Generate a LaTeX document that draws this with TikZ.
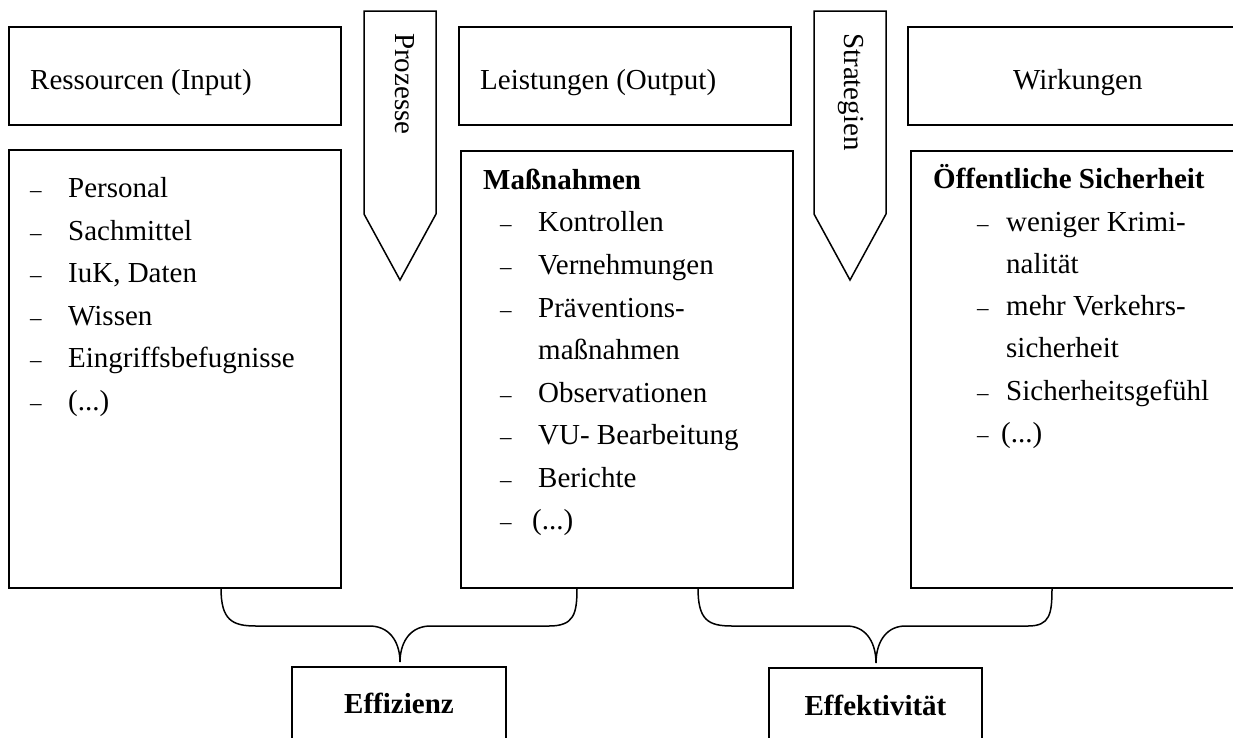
\documentclass[tikz,border=0pt]{standalone}
\usepackage{fontspec}
\setmainfont{Liberation Serif}
\begin{document}
\begin{tikzpicture}[x=1pt,y=-1pt,
  box/.style={draw, line width=1.8pt, inner sep=0pt, outer sep=0pt, anchor=north west},
  txt/.style={anchor=base west, inner sep=0pt, font=\fontsize{29}{35}\selectfont},
  dsh/.style={anchor=base west, inner sep=0pt, font=\fontsize{23}{23}\selectfont},
  btxt/.style={anchor=base west, inner sep=0pt, font=\fontsize{29}{35}\selectfont\bfseries},
  ctxt/.style={anchor=base, inner sep=0pt, font=\fontsize{29}{35}\selectfont\bfseries},
  rtxt/.style={anchor=base west, inner sep=0pt, rotate=-90, font=\fontsize{29}{35}\selectfont},
  arr/.style={draw, line width=1.5pt, line join=miter},
  brace/.style={draw, line width=1.5pt}]
\useasboundingbox (0,0) rectangle (1233,737);
\clip (0,0) rectangle (1233,737);

% header boxes
\node[box, minimum width=332pt, minimum height=98pt] (h1) at (9,27) {};
\node[box, minimum width=332pt, minimum height=98pt] (h2) at (459,27) {};
\node[box, minimum width=338pt, minimum height=98pt] (h3) at (908,27) {};
\node[txt] (t1) at (30,89) {Ressourcen (Input)};
\node[txt] (t2) at (480,89) {Leistungen (Output)};
\node[txt] (t3) at (1013,89) {Wirkungen};

% content boxes
\node[box, minimum width=332pt, minimum height=438pt] (c1) at (9,150) {};
\node[box, minimum width=332pt, minimum height=437pt] (c2) at (461,151) {};
\node[box, minimum width=335pt, minimum height=437pt] (c3) at (911,151) {};

% process arrows
\path[arr] (364,11) -- (436,11) -- (436,214) -- (400,280) -- (364,214) -- cycle;
\node[rtxt] (p1) at (395,33) {Prozesse};
\path[arr] (814,11) -- (886,11) -- (886,214) -- (850,280) -- (814,214) -- cycle;
\node[rtxt] (p2) at (844,33) {Strategien};

% list 1
\foreach \y/\t [count=\i] in {197/Personal, 240/Sachmittel, 282/{IuK, Daten}, 325/Wissen, 367/Eingriffsbefugnisse}{
  \node[dsh] (d1-\i) at (30,\y) {–};
  \node[txt] (l1-\i) at (68,\y) {\t};
}
\node[dsh] (d1-e) at (30,410) {–};
\node[txt] (l1-e) at (68,410) {(...)};

% list 2
\node[btxt] (m2) at (483,189) {Maßnahmen};
\foreach \y/\t [count=\i] in {231/Kontrollen, 274/Vernehmungen, 317/Präventions-, 402/Observationen, 444/VU- Bearbeitung, 487/Berichte}{
  \node[dsh] (d2-\i) at (500,\y) {–};
  \node[txt] (l2-\i) at (538,\y) {\t};
}
\node[txt] (l2-c) at (538,359) {maßnahmen};
\node[dsh] (d2-e) at (500,529) {–};
\node[txt] (l2-e) at (532,529) {(...)};

% list 3
\node[btxt] (m3) at (933,188) {Öffentliche Sicherheit};
\foreach \y/\t [count=\i] in {231/weniger Krimi-, 315/mehr Verkehrs-, 400/Sicherheitsgefühl}{
  \node[dsh] (d3-\i) at (977,\y) {–};
  \node[txt] (l3-\i) at (1006,\y) {\t};
}
\node[txt] (l3-a) at (1006,273) {nalität};
\node[txt] (l3-b) at (1006,357) {sicherheit};
\node[dsh] (d3-e) at (977,442) {–};
\node[txt] (l3-e) at (1001,442) {(...)};

% result boxes
\node[box, minimum width=214pt, minimum height=100pt] (eff) at (292,667) {};
\node[box, minimum width=213pt, minimum height=100pt] (efk) at (769,668) {};
\node[ctxt] (te) at (399,713) {Effizienz};
\node[ctxt] (tk) at (875.5,715) {Effektivität};

% braces
\coordinate (b1l) at (221,588);
\coordinate (b1r) at (577,588);
\coordinate (b1t) at (400,662);
\coordinate (b2l) at (698,588);
\coordinate (b2r) at (1052,588);
\coordinate (b2t) at (876,663);
\path[brace] (b1l) .. controls (221,620) and (232,626) .. (256,626) -- (371,626)
  .. controls (392,627) and (400,645) .. (b1t)
  .. controls (400,645) and (408,627) .. (429,626) -- (549,626)
  .. controls (574,626) and (577,614) .. (b1r);
\path[brace] (b2l) .. controls (698,620) and (708,626) .. (732,626) -- (848,626)
  .. controls (868,627) and (876,645) .. (b2t)
  .. controls (876,645) and (884,627) .. (904,626) -- (1028,626)
  .. controls (1050,626) and (1052,614) .. (b2r);
\end{tikzpicture}
\end{document}
